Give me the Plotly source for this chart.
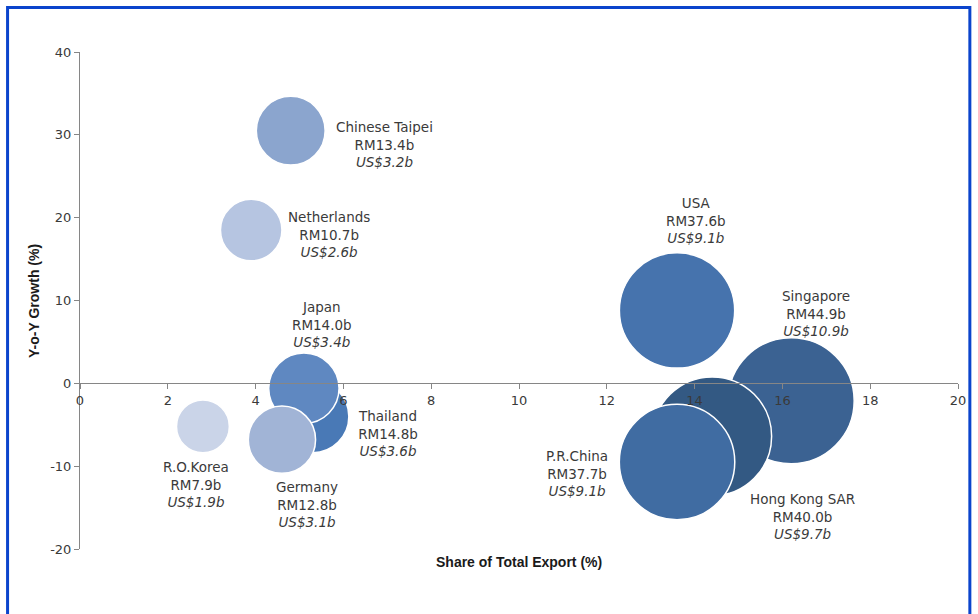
import plotly.graph_objects as go

# ---- data ----
countries = ["R.O.Korea", "Netherlands", "Chinese Taipei", "Thailand", "Japan",
             "Germany", "USA", "Singapore", "Hong Kong SAR", "P.R.China"]
share_pct = [2.8, 3.9, 4.8, 5.3, 5.1, 4.6, 13.6, 16.2, 14.4, 13.6]
yoy_growth = [-5.2, 18.5, 30.5, -4.0, -0.6, -6.8, 8.8, -2.1, -6.4, -9.5]
export_rm_b = [7.9, 10.7, 13.4, 14.8, 14.0, 12.8, 37.6, 44.9, 40.0, 37.7]
export_usd_b = [1.9, 2.6, 3.2, 3.6, 3.4, 3.1, 9.1, 10.9, 9.7, 9.1]
x_ticks = [0, 2, 4, 6, 8, 10, 12, 14, 16, 18, 20]
y_ticks = [-20, -10, 0, 10, 20, 30, 40]

# ---- styles ----
colors = ["#CAD4E8", "#B6C5E1", "#8BA5CE", "#4979B6", "#5F88C1",
          "#A1B4D6", "#4673AD", "#3B6292", "#335983", "#406CA2"]
# label offsets (px) relative to bubble centre
label_shift = {
    "R.O.Korea": (-7, -58), "Netherlands": (78, -4), "Chinese Taipei": (94, -14),
    "Thailand": (75, -17), "Japan": (18, 64), "Germany": (25, -65),
    "USA": (19, 90), "Singapore": (25, 87), "Hong Kong SAR": (90, -80),
    "P.R.China": (-100, -11),
}
FONT = "DejaVu Sans"
TXT = "#3a3a3a"
AX = "#868686"
max_diam = 126
sizeref = 2.0 * max(export_rm_b) / (max_diam ** 2)

fig = go.Figure()
fig.add_trace(go.Scatter(
    x=share_pct, y=yoy_growth, mode="markers",
    marker=dict(size=export_rm_b, sizemode="area", sizeref=sizeref,
                color=colors, opacity=1,
                line=dict(color="white", width=1.5)),
    hoverinfo="skip", showlegend=False,
))

annotations = []
for c, xv, yv, rm, us in zip(countries, share_pct, yoy_growth, export_rm_b, export_usd_b):
    dx, dy = label_shift[c]
    annotations.append(dict(
        x=xv, y=yv, xref="x", yref="y", showarrow=False,
        xshift=dx, yshift=dy, align="center",
        text=f"{c}<br>RM{rm:.1f}b<br><i>US${us:.1f}b</i>",
        font=dict(family=FONT, size=13.5, color=TXT),
    ))

annotations.append(dict(
    x=0.5, y=-0.026, xref="paper", yref="paper", showarrow=False,
    text="<b>Share of Total Export (%)</b>", yanchor="middle",
    font=dict(family="Liberation Sans", size=14, color="#1a1a1a"),
))
annotations.append(dict(
    x=-0.053, y=0.5, xref="paper", yref="paper", showarrow=False,
    text="<b>Y-o-Y Growth (%)</b>", textangle=-90, xanchor="center",
    font=dict(family="Liberation Sans", size=14, color="#1a1a1a"),
))

fig.update_layout(
    width=978, height=614,
    margin=dict(l=80, r=18, t=52, b=65),
    paper_bgcolor="white", plot_bgcolor="white",
    font=dict(family=FONT, size=13, color=TXT),
    annotations=annotations,
    shapes=[dict(type="rect", xref="paper", yref="paper",
                 x0=-0.0825, x1=1.0135, y0=-0.16, y1=1.0895,
                 line=dict(color="#0B44CC", width=3), fillcolor="rgba(0,0,0,0)",
                 layer="above")],
    xaxis=dict(range=[0, 20], tickvals=x_ticks, ticktext=[str(v) for v in x_ticks],
               showgrid=False, zeroline=False,
               showline=True, linecolor=AX, linewidth=1, ticks="outside",
               ticklen=5, tickcolor=AX, anchor="free",
               position=(0 - y_ticks[0]) / (y_ticks[-1] - y_ticks[0]),
               tickfont=dict(family=FONT, size=13, color=TXT)),
    yaxis=dict(range=[-20, 40], tickvals=y_ticks, ticktext=[str(v) for v in y_ticks],
               showgrid=False, zeroline=False,
               showline=True, linecolor=AX, linewidth=1, ticks="outside",
               ticklen=5, tickcolor=AX,
               tickfont=dict(family=FONT, size=13, color=TXT)),
)

fig.write_html("out.html", config={"displayModeBar": False},
               post_script="document.body.style.margin='0';")
